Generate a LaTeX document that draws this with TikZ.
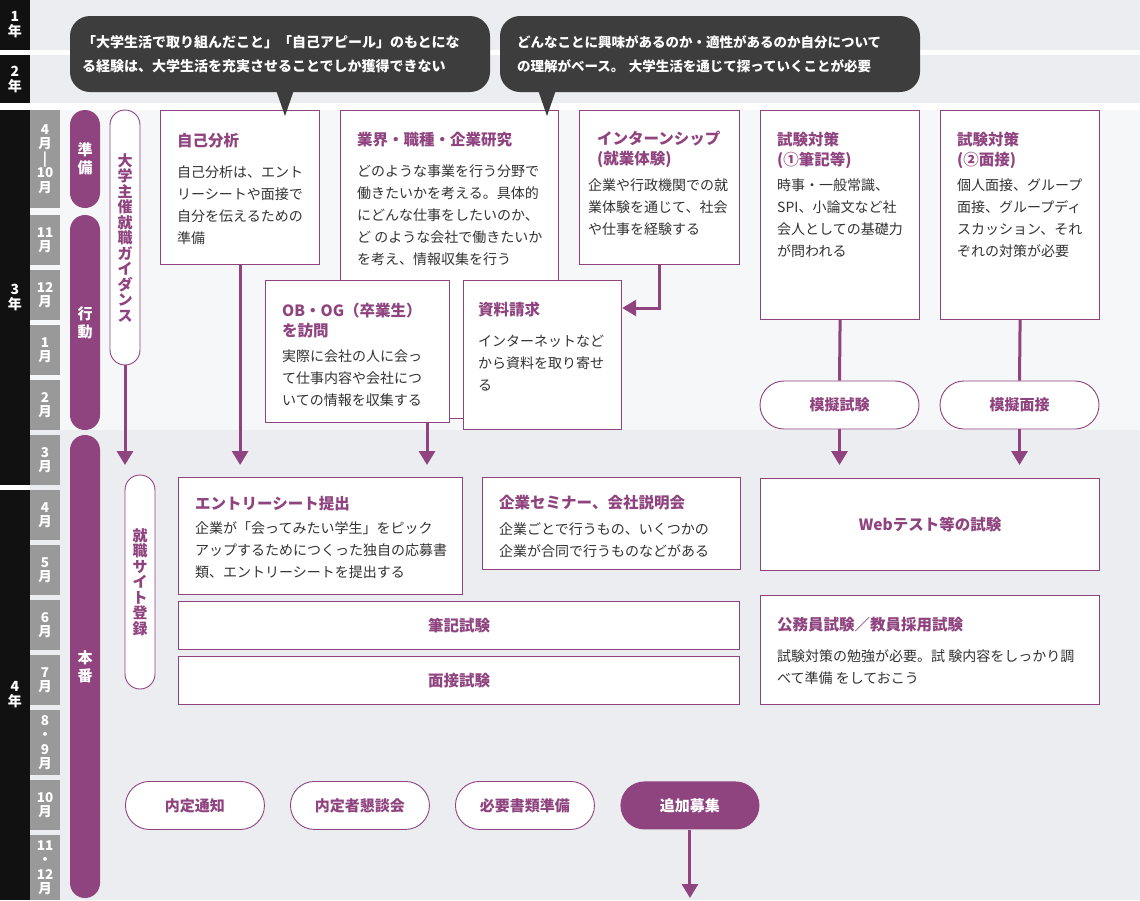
\documentclass[tikz,border=0pt]{standalone}
\usepackage{fontspec}
\setmainfont{Noto Sans CJK JP}
\usepackage{tikz}
\usetikzlibrary{positioning}
\usetikzlibrary{arrows.meta,calc}

\definecolor{plum}{HTML}{8F437F}
\definecolor{ink}{HTML}{333333}
\definecolor{bubblec}{HTML}{3D3D3D}
\definecolor{rowbg}{HTML}{ECEDF0}
\definecolor{rowlight}{HTML}{F6F7F8}
\definecolor{yearbg}{HTML}{111111}
\definecolor{monthbg}{HTML}{999999}

\begin{document}
\begin{tikzpicture}[x=1pt,y=-1pt,
  card/.style={draw=plum, line width=1.2pt, fill=white, rectangle, inner sep=0pt, anchor=north west},
  ttl/.style={text=plum, font=\bfseries\fontsize{15.5}{20.5}\selectfont, align=left, anchor=base west, inner sep=0pt},
  body/.style={text=ink, font=\fontsize{14}{22}\selectfont, align=left, anchor=base west, inner sep=0pt},
  mid/.style={text=plum, font=\bfseries\fontsize{15.5}{18}\selectfont, inner sep=0pt},
  hpill/.style={draw=plum, line width=0.9pt, fill=white, rounded corners=24, minimum width=139, minimum height=48, inner sep=0pt, text=plum, font=\bfseries\fontsize{15}{18}\selectfont},
  vpill/.style={draw=plum, line width=0.9pt, fill=white, rounded corners=15, minimum width=30, inner sep=0pt, text=plum, align=center, font=\bfseries\fontsize{15}{15.5}\selectfont},
  phase/.style={fill=plum, rounded corners=15, minimum width=30, inner sep=0pt, text=white, align=center, font=\bfseries\fontsize{15}{18}\selectfont},
  yeartxt/.style={text=white, align=center, inner sep=0pt, font=\bfseries\fontsize{14}{15}\selectfont},
  monthtxt/.style={text=white, align=center, inner sep=0pt, font=\bfseries\fontsize{13.5}{14.5}\selectfont},
  bubble/.style={fill=bubblec, text=white, rounded corners=20, minimum width=420, minimum height=76, inner sep=0pt, align=left, font=\bfseries\fontsize{14}{24}\selectfont},
  link/.style={draw=plum, line width=3pt},
  flow/.style={draw=plum, line width=3pt, -{Triangle[width=16pt,length=14pt]}}]

\useasboundingbox (0,0) rectangle (1140,900);

%rows
\fill[white] (0,0) rectangle (1140,900);
\fill[rowbg] (30,0) rectangle (1140,50);
\fill[rowbg] (30,55) rectangle (1140,103);
\fill[rowlight] (30,110) rectangle (1140,430);
\fill[rowbg] (30,430) rectangle (1140,900);

%years
\foreach \ya/\yb/\lab [count=\k] in {0/50/1,55/103/2,110/485/3,490/900/4}{
  \fill[yearbg] (0,\ya) rectangle (30,\yb);
  \node[yeartxt] (y\k) at (15,{(\ya+\yb)/2}) {\lab\\年};
}

%months
\foreach \ya/\yb/\lab [count=\k] in {110/208/{4\\月\\|\\10\\月},215/265/{11\\月},270/320/{12\\月},325/375/{1\\月},380/430/{2\\月},435/485/{3\\月},490/540/{4\\月},545/595/{5\\月},600/650/{6\\月},655/705/{7\\月},710/775/{8\\・\\9\\月},780/830/{10\\月},835/900/{11\\・\\12\\月}}{
  \fill[monthbg] (30,\ya) rectangle (60,\yb);
  \node[monthtxt] (m\k) at (45,{(\ya+\yb)/2}) {\lab};
}

%phases
\node[phase, minimum height=98] (junbi) at (85,159) {準\\備};
\node[phase, minimum height=215] (kodo) at (85,322.5) {行\\動};
\node[phase, minimum height=463] (honban) at (85,666.5) {本\\番};

\node[vpill, minimum height=255] (guide) at (125,237.5) {大\\学\\主\\催\\就\\職\\ガ\\イ\\ダ\\ン\\ス};
\node[vpill, minimum height=214] (site) at (140,582) {就\\職\\サ\\イ\\ト\\登\\録};

%year 3 cards (text nodes sit on the baseline of their last line)
\node[card, minimum width=159, minimum height=154] (jiko) at (160,110) {};
\node[ttl] (jikoT) at ($(jiko.north west)+(17,36)$) {自己分析};
\node[body] (jikoB) at ($(jiko.north west)+(17,133)$) {自己分析は、エント\\リーシートや面接で\\自分を伝えるための\\準備};

\node[card, minimum width=218, minimum height=308] (gyokai) at (340,110) {};
\node[ttl] (gyokaiT) at ($(gyokai.north west)+(17,35)$) {業界・職種・企業研究};
\node[body] (gyokaiB) at ($(gyokai.north west)+(17,154)$) {どのような事業を行う分野で\\働きたいかを考える。具体的\\にどんな仕事をしたいのか、\\ど のような会社で働きたいか\\を考え、情報収集を行う};

\node[card, minimum width=160, minimum height=154] (intern) at (579,110) {};
\node[ttl] (internT) at ($(intern.north west)+(18,54.5)$) {インターンシップ\\(就業体験)};
\node[body] (internB) at ($(intern.north west)+(9,124)$) {企業や行政機関での就\\業体験を通じて、社会\\や仕事を経験する};

\node[card, minimum width=159, minimum height=209] (hikkitai) at (760,110) {};
\node[ttl] (hikkitaiT) at ($(hikkitai.north west)+(17,55.5)$) {試験対策\\(①筆記等)};
\node[body] (hikkitaiB) at ($(hikkitai.north west)+(17,146)$) {時事・一般常識、\\SPI、小論文など社\\会人としての基礎力\\が問われる};

\node[card, minimum width=159, minimum height=209] (mentai) at (940,110) {};
\node[ttl] (mentaiT) at ($(mentai.north west)+(17,55.5)$) {試験対策\\(②面接)};
\node[body] (mentaiB) at ($(mentai.north west)+(17,146)$) {個人面接、グループ\\面接、グループディ\\スカッション、それ\\ぞれの対策が必要};

\node[card, minimum width=184, minimum height=142] (obog) at (265,280) {};
\node[ttl] (obogT) at ($(obog.north west)+(17,56.5)$) {OB・OG（卒業生）\\を訪問};
\node[body] (obogB) at ($(obog.north west)+(17,125)$) {実際に会社の人に会っ\\て仕事内容や会社につ\\いての情報を収集する};

\node[card, minimum width=158, minimum height=149] (siryo) at (463,280) {};
\node[ttl] (siryoT) at ($(siryo.north west)+(15,35)$) {資料請求};
\node[body] (siryoB) at ($(siryo.north west)+(15,110)$) {インターネットなど\\から資料を取り寄せ\\る};

\node[hpill, minimum width=159] (mogi1) at (839.5,405) {模擬試験};
\node[hpill, minimum width=159] (mogi2) at (1019.5,405) {模擬面接};

%connectors
\coordinate (drop) at (0,465);
\coordinate (obx) at (427,465);
\coordinate (bend) at (0,308);
\coordinate (endp) at (0,898);
\draw[link] (hikkitai.south) -- (mogi1.north);
\draw[link] (mentai.south) -- (mogi2.north);
\draw[flow] (guide.south) -- (guide.south |- drop);
\draw[flow] (jiko.south) -- (jiko.south |- drop);
\draw[flow] (obog.south -| obx) -- (obx);
\draw[flow] (mogi1.south) -- (mogi1.south |- drop);
\draw[flow] (mogi2.south) -- (mogi2.south |- drop);
\draw[flow] (intern.south) |- (siryo.east |- bend);

%year 4 cards
\node[card, minimum width=284, minimum height=117] (entry) at (178,477) {};
\node[ttl] (entryT) at ($(entry.north west)+(17,32)$) {エントリーシート提出};
\node[body] (entryB) at ($(entry.north west)+(17,100)$) {企業が「会ってみたい学生」をピック\\アップするためにつくった独自の応募書\\類、エントリーシートを提出する};

\node[card, minimum width=258, minimum height=92] (seminar) at (482,477) {};
\node[ttl] (seminarT) at ($(seminar.north west)+(17,31)$) {企業セミナー、会社説明会};
\node[body] (seminarB) at ($(seminar.north west)+(17,79)$) {企業ごとで行うもの、いくつかの\\企業が合同で行うものなどがある};

\node[card, minimum width=339, minimum height=92] (web) at (760,478) {};
\node[mid] (webT) at (web.center) {Webテスト等の試験};

\node[card, minimum width=561, minimum height=48] (hikki) at (178,601) {};
\node[mid] (hikkiT) at (hikki.center) {筆記試験};
\node[card, minimum width=561, minimum height=48] (mensetsu) at (178,656) {};
\node[mid] (mensetsuT) at (mensetsu.center) {面接試験};

\node[card, minimum width=339, minimum height=109] (komuin) at (760,595) {};
\node[ttl] (komuinT) at ($(komuin.north west)+(17,35)$) {公務員試験／教員採用試験};
\node[body] (komuinB) at ($(komuin.north west)+(17,88)$) {試験対策の勉強が必要。試 験内容をしっかり調\\べて準備 をしておこう};

%after offer
\foreach \xa/\lab/\name in {125/内定通知/naitei,290/内定者懇談会/kondan,455/必要書類準備/shorui}{
  \node[hpill, anchor=north west] (\name) at (\xa,781) {\lab};
}
\node[hpill, anchor=north west, fill=plum, text=white, draw=none] (tsuika) at (620,781) {追加募集};
\draw[flow] (tsuika.south) -- (tsuika.south |- endp);

%bubbles
\node[bubble, text width=396] (say1) at (280,54) {「大学生活で取り組んだこと」「自己アピール」のもとにな\\る経験は、大学生活を充実させることでしか獲得できない};
\fill[bubblec] (276,90) -- (285,116) -- (294,90) -- cycle;
\node[bubble, text width=386, font=\bfseries\fontsize{13.5}{24}\selectfont] (say2) at (710,54) {どんなことに興味があるのか・適性があるのか自分について\\の理解がベース。 大学生活を通じて探っていくことが必要};
\fill[bubblec] (538,90) -- (547,116) -- (556,90) -- cycle;

\end{tikzpicture}
\end{document}
